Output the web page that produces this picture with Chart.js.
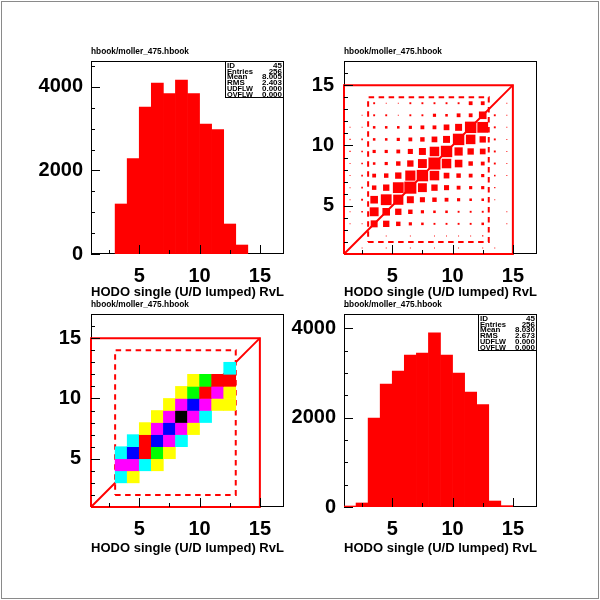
<!DOCTYPE html>
<html>
<head>
<meta charset="utf-8">
<title>moller_475 HODO</title>
<script src="https://cdn.jsdelivr.net/npm/chart.js@4.4.1/dist/chart.umd.min.js"></script>
<style>
  html, body { margin: 0; padding: 0; background: #fff; }
  #page { position: relative; width: 600px; height: 600px; background: #fff; overflow: hidden; }
  #page .frame { position: absolute; left: 1px; top: 1px; width: 596px; height: 596px; border: 1px solid #8a8a8a; }
  #page canvas { position: absolute; }
</style>
</head>
<body>
<div id="page">
  <div class="frame"></div>
  <canvas id="hist1" width="300" height="300" style="left:0;top:0"></canvas>
  <canvas id="box2" width="350" height="300" style="left:250px;top:0"></canvas>
  <canvas id="col3" width="300" height="340" style="left:0;top:260px"></canvas>
  <canvas id="hist4" width="350" height="340" style="left:250px;top:260px"></canvas>
</div>
<script>
// ---- Data ----
const fileTitle = 'hbook/moller_475.hbook';
const axisTitle = 'HODO single (U/D lumped) RvL';

// histogram 1 (top left): bin low edges and contents
const hist1Bins = [3, 4, 5, 6, 7, 8, 9, 10, 11, 12, 13];
const hist1Counts = [1197, 2282, 3519, 4093, 3838, 4165, 3838, 3112, 2976, 718, 215];

// histogram 4 (bottom right)
const hist4Bins = [1, 2, 3, 4, 5, 6, 7, 8, 9, 10, 11, 12, 13, 14];
const hist4Counts = [22, 90, 1993, 2754, 3045, 3403, 3448, 3896, 3403, 3000, 2575, 2291, 134, 30];

// axis ranges
const xMin = 1, xMax = 17;
const hist1Max = 4620;
const hist4Max = 4320;

// tick positions and labelled ticks
const countTicks = [0, 500, 1000, 1500, 2000, 2500, 3000, 3500, 4000, 4500];
const countLabels = [0, 2000, 4000];
const posTicksX = [2.5, 5, 7.5, 10, 12.5, 15];
const posTicksY = [2, 3, 4, 5, 6, 7, 8, 9, 10, 11, 12, 13, 14, 15, 16];
const posLabels = [5, 10, 15];

// statistics boxes
const statNames = ['ID', 'Entries', 'Mean', 'RMS', 'UDFLW', 'OVFLW'];
const stats1 = ['45', '256', '8.005', '2.403', '0.000', '0.000'];
const stats4 = ['45', '256', '8.030', '2.673', '0.000', '0.000'];

// 2D box plot (top right): rows = y bins, columns = x bins
const boxXBins = [1, 2, 3, 4, 5, 6, 7, 8, 9, 10, 11, 12, 13, 14];
const boxYBins = [1, 2, 3, 4, 5, 6, 7, 8, 9, 10, 11, 12, 13];
const boxZ = [
  [0, 3, 0, 3, 0, 3, 0, 3, 0, 3, 0, 3, 3, 0],
  [0, 0, 0, 3, 0, 3, 0, 3, 3, 3, 3, 4, 0, 0],
  [3, 3, 22, 20, 14, 10, 8, 6, 6, 6, 6, 8, 0, 3],
  [3, 5, 28, 24, 20, 14, 10, 8, 8, 6, 6, 6, 0, 3],
  [3, 6, 24, 34, 32, 22, 16, 14, 12, 10, 8, 8, 3, 0],
  [3, 5, 14, 20, 34, 38, 28, 20, 16, 12, 10, 10, 4, 0],
  [3, 5, 12, 14, 20, 32, 36, 30, 18, 14, 12, 10, 5, 3],
  [3, 5, 8, 10, 14, 20, 28, 38, 30, 24, 14, 12, 6, 3],
  [4, 5, 10, 10, 12, 16, 22, 30, 36, 26, 20, 18, 6, 3],
  [4, 5, 8, 8, 10, 12, 14, 18, 22, 36, 30, 20, 6, 3],
  [3, 3, 8, 8, 8, 10, 12, 12, 18, 22, 36, 34, 6, 3],
  [0, 3, 6, 6, 3, 6, 6, 10, 8, 12, 12, 24, 6, 3],
  [0, 0, 6, 3, 3, 6, 6, 6, 6, 6, 12, 12, 0, 3]
];

// colour plot (bottom left): colour level per cell
const colXBins = [3, 4, 5, 6, 7, 8, 9, 10, 11, 12];
const colYBins = [3, 4, 5, 6, 7, 8, 9, 10, 11, 12];
const colLevels = [
  [2, 1, 0, 0, 0, 0, 0, 0, 0, 0],
  [3, 3, 2, 1, 0, 0, 0, 0, 0, 0],
  [2, 6, 5, 4, 1, 0, 0, 0, 0, 0],
  [0, 2, 5, 6, 3, 2, 0, 0, 0, 0],
  [0, 0, 1, 3, 6, 3, 1, 0, 0, 0],
  [0, 0, 0, 1, 3, 7, 3, 2, 0, 0],
  [0, 0, 0, 0, 1, 3, 6, 3, 1, 1],
  [0, 0, 0, 0, 0, 1, 4, 5, 3, 1],
  [0, 0, 0, 0, 0, 0, 1, 4, 5, 5],
  [0, 0, 0, 0, 0, 0, 0, 0, 0, 2]
];
const levelColors = ['#ffffff', '#ffff00', '#00ffff', '#ff00ff', '#00ff00', '#ff0000', '#0000ff', '#000000'];

// cut lines drawn over the 2D plots
const outerBoxX = [1, 15, 15, 1, 1];
const outerBoxY = [1, 1, 15, 15, 1];
const diagX = [1, 15];
const diagY = [1, 15];
const cutBoxX = [3, 13, 13, 3, 3];
const cutBoxY = [2, 2, 14, 14, 2];

// ---- Common setup ----
Chart.defaults.font.family = '"Liberation Sans", Arial, Helvetica, sans-serif';
Chart.defaults.color = '#000';
Chart.defaults.animation = false;
Chart.defaults.events = [];
Chart.defaults.plugins.legend.display = false;
Chart.defaults.plugins.tooltip.enabled = false;

const RED = '#ff0000';

function zip(xs, ys) {
  return xs.map((x, i) => ({ x: x, y: ys[i] }));
}

// frame, inner tick marks, title and stats box in PAW style
const pawPlugin = {
  id: 'paw',
  beforeDatasetsDraw(chart) {
    const a = chart.chartArea;
    const ctx = chart.ctx;
    ctx.save();
    ctx.strokeStyle = '#000';
    ctx.lineWidth = 1;
    ctx.strokeRect(a.left + 0.5, a.top + 0.5, a.right - a.left - 1, a.bottom - a.top - 1);
    ctx.restore();
  },
  afterDatasetsDraw(chart, args, opts) {
    const a = chart.chartArea;
    const ctx = chart.ctx;
    const sx = chart.scales.x, sy = chart.scales.y;
    ctx.save();
    ctx.strokeStyle = '#000';
    ctx.lineWidth = 1;
    ctx.beginPath();
    sx.ticks.forEach(t => {
      const px = Math.round(sx.getPixelForValue(t.value)) + 0.5;
      const len = t.value % opts.majorX === 0 ? 9 : 4;
      ctx.moveTo(px, a.bottom);
      ctx.lineTo(px, a.bottom - len);
    });
    sy.ticks.forEach(t => {
      const py = Math.round(sy.getPixelForValue(t.value)) + 0.5;
      const len = t.value % opts.majorY === 0 ? 9 : 4;
      ctx.moveTo(a.left, py);
      ctx.lineTo(a.left + len, py);
    });
    ctx.stroke();
    ctx.restore();
  },
  afterDraw(chart, args, opts) {
    const a = chart.chartArea;
    const ctx = chart.ctx;
    ctx.save();
    ctx.fillStyle = '#000';
    ctx.font = 'bold 8.5px "Liberation Sans", Arial, sans-serif';
    ctx.textAlign = 'left';
    ctx.textBaseline = 'middle';
    ctx.fillText(fileTitle, a.left, a.top - 9, 98);

    if (opts.stats) {
      const w = 59, h = 36;
      const x0 = a.right - w, y0 = a.top;
      ctx.fillStyle = '#fff';
      ctx.fillRect(x0, y0, w, h);
      ctx.strokeStyle = '#000';
      ctx.lineWidth = 1;
      ctx.strokeRect(x0 + 0.5, y0 + 0.5, w - 1, h);
      ctx.fillStyle = '#000';
      ctx.font = 'bold 8px "Liberation Sans", Arial, sans-serif';
      ctx.textBaseline = 'top';
      statNames.forEach((name, i) => {
        const y = y0 + 0.5 + i * 5.8;
        ctx.textAlign = 'left';
        ctx.fillText(name, x0 + 2, y, 26);
        ctx.textAlign = 'right';
        ctx.fillText(opts.stats[i], a.right - 2, y, 22);
      });
    }
    ctx.restore();
  }
};

function xScale(xHeight) {
  return {
    type: 'linear',
    min: xMin,
    max: xMax,
    offset: false,
    grid: { display: false, drawTicks: false, tickLength: 0 },
    border: { display: false },
    afterBuildTicks: s => { s.ticks = posTicksX.map(v => ({ value: v })); },
    afterFit: s => { s.height = xHeight; },
    ticks: {
      autoSkip: false,
      maxRotation: 0,
      padding: 10,
      font: { size: 20, weight: 'bold' },
      callback: v => (posLabels.includes(v) ? String(v) : '')
    },
    title: {
      display: true,
      text: axisTitle,
      font: { size: 13, weight: 'bold' },
      padding: { top: 0, bottom: 0 }
    }
  };
}

function yScale(max, tickValues, labelValues, yWidth, pad) {
  return {
    type: 'linear',
    min: tickValues === countTicks ? 0 : xMin,
    max: max,
    grid: { display: false, drawTicks: false, tickLength: 0 },
    border: { display: false },
    afterBuildTicks: s => { s.ticks = tickValues.map(v => ({ value: v })); },
    afterFit: s => { s.width = yWidth; },
    ticks: {
      autoSkip: false,
      padding: pad,
      font: { size: 20, weight: 'bold' },
      callback: v => (labelValues.includes(v) ? String(v) : '')
    }
  };
}

// ---- Histograms ----
function makeHist(id, bins, counts, max, stats, geo) {
  new Chart(document.getElementById(id), {
    type: 'bar',
    data: {
      datasets: [{
        data: zip(bins.map(b => b + 0.5), counts),
        backgroundColor: RED,
        borderWidth: 0,
        barPercentage: 1,
        categoryPercentage: 1
      }]
    },
    options: {
      responsive: false,
      layout: { padding: geo.padding },
      scales: {
        x: xScale(geo.xHeight),
        y: yScale(max, countTicks, countLabels, geo.yWidth, 8)
      },
      plugins: { paw: { majorX: 5, majorY: 2000, stats: stats } }
    },
    plugins: [pawPlugin]
  });
}

// ---- 2D plots ----
function cellPx(chart) {
  const s = chart.scales.x;
  return s.getPixelForValue(2) - s.getPixelForValue(1);
}

function cutLines() {
  return [
    { type: 'scatter', data: zip(outerBoxX, outerBoxY), showLine: true, borderColor: RED, borderWidth: 2, pointRadius: 0, clip: 4 },
    { type: 'scatter', data: zip(diagX, diagY), showLine: true, borderColor: RED, borderWidth: 2, pointRadius: 0, clip: 4 },
    { type: 'scatter', data: zip(cutBoxX, cutBoxY), showLine: true, borderColor: RED, borderWidth: 2, borderDash: [5.5, 4.5], pointRadius: 0, clip: 4 }
  ];
}

function make2D(id, cells, geo) {
  new Chart(document.getElementById(id), {
    type: 'scatter',
    data: { datasets: [cells].concat(cutLines()) },
    options: {
      responsive: false,
      layout: { padding: geo.padding },
      scales: {
        x: xScale(geo.xHeight),
        y: yScale(xMax, posTicksY, posLabels, geo.yWidth, 10)
      },
      plugins: { paw: { majorX: 5, majorY: 5, stats: null } }
    },
    plugins: [pawPlugin]
  });
}

// box plot points, side proportional to content
const boxMax = Math.max(...boxZ.map(r => Math.max(...r)));
const boxPoints = [];
boxZ.forEach((row, r) => row.forEach((v, c) => {
  if (v > 0) boxPoints.push({ x: boxXBins[c] + 0.5, y: boxYBins[r] + 0.5, v: v });
}));

// colour plot cells
const colPoints = [];
colLevels.forEach((row, r) => row.forEach((lv, c) => {
  if (lv > 0) colPoints.push({ x: colXBins[c] + 0.5, y: colYBins[r] + 0.5, lv: lv });
}));

makeHist('hist1', hist1Bins, hist1Counts, hist1Max, stats1,
  { padding: { left: 0, top: 61, right: 16, bottom: 0 }, yWidth: 91, xHeight: 46 });

make2D('box2', {
  data: boxPoints,
  pointStyle: 'rect',
  pointBackgroundColor: RED,
  pointBorderWidth: 0,
  pointRadius: ctx => (ctx.raw ? ctx.raw.v / boxMax * cellPx(ctx.chart) / Math.SQRT2 : 0)
}, { padding: { left: 0, top: 61, right: 63, bottom: 0 }, yWidth: 94, xHeight: 46 });

make2D('col3', {
  data: colPoints,
  pointStyle: 'rect',
  pointBackgroundColor: ctx => (ctx.raw ? levelColors[ctx.raw.lv] : '#fff'),
  pointBorderWidth: 0,
  pointRadius: ctx => (cellPx(ctx.chart) + 0.6) / Math.SQRT2
}, { padding: { left: 0, top: 54, right: 16, bottom: 44 }, yWidth: 91, xHeight: 49 });

makeHist('hist4', hist4Bins, hist4Counts, hist4Max, stats4,
  { padding: { left: 0, top: 54, right: 63, bottom: 44 }, yWidth: 94, xHeight: 49 });
</script>
</body>
</html>
